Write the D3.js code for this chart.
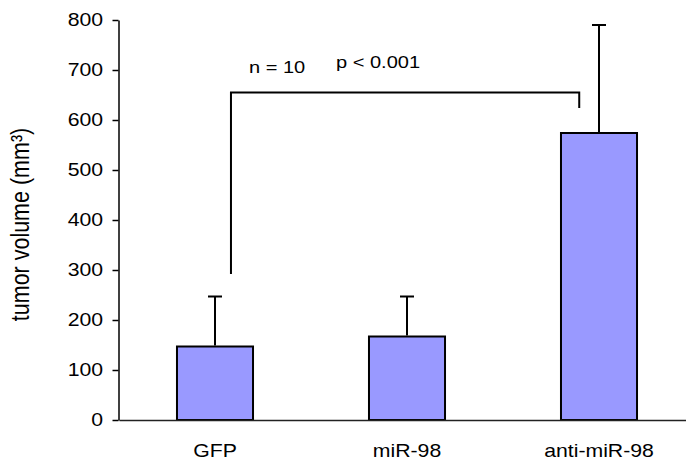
<!DOCTYPE html>
<html>
<head>
<meta charset="utf-8">
<script src="https://cdn.jsdelivr.net/npm/d3@7"></script>
<style>
  body { margin: 0; background: #fff; }
  text { font-family: "Liberation Sans", Arial, sans-serif; fill: #000; }
</style>
</head>
<body>
<div id="chart"></div>
<script>
// data
const groups = ['GFP', 'miR-98', 'anti-miR-98']
const means = [147, 167, 574]
const errTops = [247, 247, 790]
const yTicks = [0, 100, 200, 300, 400, 500, 600, 700, 800]
const bracketVals = [292, 655, 624]   // left foot, top, right foot
const noteText = ['n = 10', 'p < 0.001']

const w = 686,
      h = 468,
      stretch = 1.18   // text in the picture is a bit wide

const svg = d3.select('#chart')
              .append('svg')
              .attr('width', w)
              .attr('height', h)

const xScale = d3.scaleBand()
                 .domain(groups)
                 .range([119, 695])
                 .paddingInner(0.604)
                 .paddingOuter(0.302)

const yScale = d3.scaleLinear()
                 .domain([0, 800])
                 .range([420, 20])

const bw = xScale.bandwidth()
const cx = (g) => xScale(g) + bw / 2

// bars
svg.selectAll('rect.bar')
   .data(groups)
   .enter()
   .append('rect')
   .attr('class', 'bar')
   .attr('x', (d) => xScale(d))
   .attr('y', (d, i) => yScale(means[i]))
   .attr('width', bw)
   .attr('height', (d, i) => yScale(0) - yScale(means[i]))
   .attr('fill', '#9999ff')
   .attr('stroke', '#000')
   .attr('stroke-width', 2)

// error bars (upper only)
svg.selectAll('line.err')
   .data(groups)
   .enter()
   .append('line')
   .attr('class', 'err')
   .attr('x1', cx).attr('x2', cx)
   .attr('y1', (d, i) => yScale(means[i]) - 1)
   .attr('y2', (d, i) => yScale(errTops[i]))
   .attr('stroke', '#000')
   .attr('stroke-width', 2)

svg.selectAll('line.cap')
   .data(groups)
   .enter()
   .append('line')
   .attr('class', 'cap')
   .attr('x1', (d) => cx(d) - 7).attr('x2', (d) => cx(d) + 7)
   .attr('y1', (d, i) => yScale(errTops[i]))
   .attr('y2', (d, i) => yScale(errTops[i]))
   .attr('stroke', '#000')
   .attr('stroke-width', 2)

// x axis
const xAxis = svg.append('g')
                 .attr('transform', 'translate(0,' + yScale(0) + ')')
                 .call(d3.axisBottom(xScale).tickSize(0).tickPadding(24))
xAxis.select('.domain').attr('stroke', '#222').attr('stroke-width', 1.5)
xAxis.selectAll('text')
     .style('font-size', '18px')
     .attr('transform', 'scale(' + stretch + ',1)')

// y axis
const yAxis = svg.append('g')
                 .attr('transform', 'translate(118.5,0)')
                 .call(d3.axisLeft(yScale).tickValues(yTicks).tickSize(6).tickSizeOuter(0).tickPadding(7))
yAxis.select('.domain').attr('stroke', '#000').attr('stroke-width', 1.5)
yAxis.selectAll('line').attr('stroke', '#000').attr('stroke-width', 1.5)
yAxis.selectAll('text')
     .style('font-size', '18px')
     .attr('transform', 'scale(' + stretch + ',1)')

// y label
svg.append('text')
   .attr('transform', 'translate(29,' + yScale(391) + ') scale(' + stretch + ',1) rotate(-90)')
   .attr('text-anchor', 'middle')
   .style('font-size', '21.5px')
   .text('tumor volume (mm³)')

// significance bracket
const bx1 = xScale('GFP') + bw * 0.71,
      bx2 = xScale('anti-miR-98') + bw * 0.24
svg.append('path')
   .attr('d', d3.line()([[bx1, yScale(bracketVals[0])], [bx1, yScale(bracketVals[1])],
                         [bx2, yScale(bracketVals[1])], [bx2, yScale(bracketVals[2])]]))
   .attr('fill', 'none')
   .attr('stroke', '#000')
   .attr('stroke-width', 2)

svg.append('text')
   .attr('transform', 'translate(' + (bx1 + 18) + ',' + yScale(694) + ') scale(' + stretch + ',1)')
   .style('font-size', '17px')
   .text(noteText[0])

svg.append('text')
   .attr('transform', 'translate(' + (bx1 + 105) + ',' + yScale(704) + ') scale(' + stretch + ',1)')
   .style('font-size', '17px')
   .text(noteText[1])
</script>
</body>
</html>
